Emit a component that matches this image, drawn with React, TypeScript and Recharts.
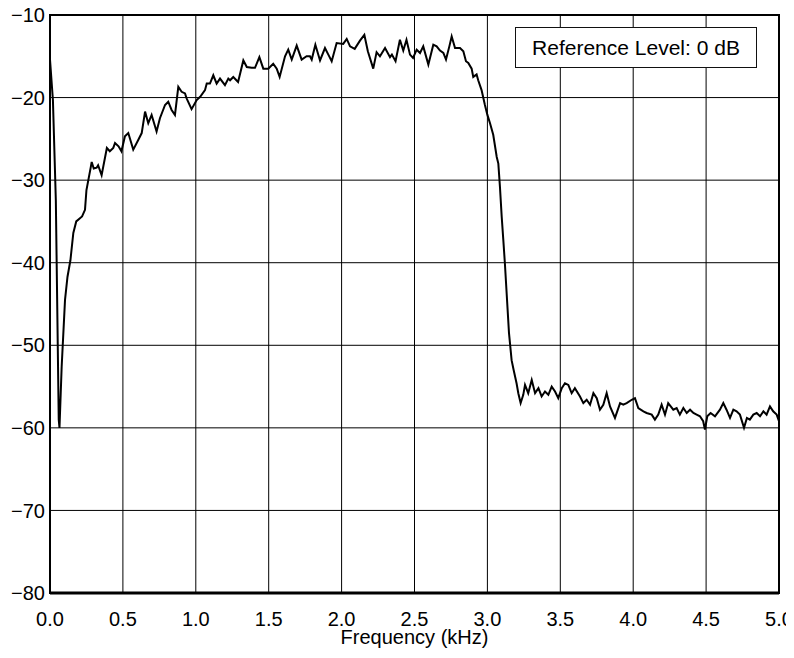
import React from 'react';
import { LineChart, Line, XAxis, YAxis, CartesianGrid, ReferenceArea } from 'recharts';

const freq = [
  0, 0.02, 0.04, 0.06, 0.065, 0.08, 0.103, 0.12, 0.14, 0.16, 0.18, 0.22, 0.24, 0.25, 0.28, 0.286, 0.3, 0.32, 0.33, 0.354,
  0.39, 0.41, 0.434, 0.446, 0.47, 0.49, 0.514, 0.537, 0.571, 0.606, 0.629, 0.652, 0.674, 0.697, 0.731, 0.754, 0.789, 0.811, 0.834, 0.857,
  0.88, 0.903, 0.926, 0.937, 0.971, 1.006, 1.03, 1.063, 1.075, 1.097, 1.12, 1.143, 1.166, 1.2, 1.223, 1.235, 1.257, 1.29, 1.326, 1.35,
  1.383, 1.406, 1.436, 1.463, 1.497, 1.531, 1.555, 1.575, 1.612, 1.634, 1.658, 1.692, 1.726, 1.76, 1.783, 1.795, 1.82, 1.852, 1.886, 1.909,
  1.932, 1.966, 2.011, 2.035, 2.058, 2.09, 2.126, 2.156, 2.18, 2.217, 2.24, 2.263, 2.298, 2.332, 2.345, 2.37, 2.4, 2.423, 2.445, 2.469,
  2.49, 2.515, 2.538, 2.56, 2.595, 2.629, 2.652, 2.675, 2.698, 2.716, 2.739, 2.755, 2.778, 2.812, 2.835, 2.853, 2.869, 2.892, 2.903, 2.926,
  2.937, 2.96, 2.983, 3.0, 3.018, 3.04, 3.064, 3.075, 3.086, 3.098, 3.109, 3.12, 3.132, 3.148, 3.166, 3.18, 3.2, 3.212, 3.228, 3.246,
  3.258, 3.28, 3.304, 3.327, 3.35, 3.372, 3.395, 3.418, 3.441, 3.464, 3.486, 3.51, 3.532, 3.555, 3.578, 3.6, 3.635, 3.658, 3.681, 3.704,
  3.727, 3.75, 3.772, 3.795, 3.818, 3.841, 3.875, 3.91, 3.932, 3.955, 3.99, 4.012, 4.035, 4.07, 4.092, 4.127, 4.149, 4.172, 4.195, 4.218,
  4.24, 4.275, 4.298, 4.32, 4.344, 4.367, 4.39, 4.413, 4.435, 4.458, 4.48, 4.492, 4.508, 4.531, 4.561, 4.595, 4.618, 4.64, 4.664, 4.687,
  4.709, 4.732, 4.76, 4.78, 4.8, 4.824, 4.847, 4.87, 4.893, 4.915, 4.938, 4.96, 4.984, 5.0,
];

const level = [
  -15.4, -20.3, -32.4, -59.0, -60.0, -52.6, -44.5, -41.7, -39.7, -36.4, -35.0, -34.4, -33.6, -31.2, -28.4, -27.8, -28.6, -28.5, -28.2, -29.4,
  -26.1, -26.5, -26.1, -25.5, -25.9, -26.5, -24.7, -24.3, -26.3, -25.1, -24.3, -21.7, -23.1, -22.1, -24.1, -22.5, -20.9, -20.5, -21.5, -22.1,
  -18.7, -19.3, -19.5, -20.1, -21.4, -20.3, -19.9, -19.1, -18.3, -18.3, -17.3, -18.3, -17.7, -18.5, -17.7, -17.9, -17.5, -18.1, -15.5, -16.3,
  -16.4, -16.4, -15.1, -16.5, -16.5, -15.9, -16.5, -17.5, -15.0, -14.2, -15.4, -13.7, -15.4, -15.0, -15.0, -15.4, -13.6, -15.5, -14.0, -14.8,
  -15.6, -13.4, -13.5, -12.9, -13.8, -14.1, -13.1, -12.4, -14.4, -16.5, -14.5, -15.0, -14.0, -15.1, -14.8, -15.6, -13.0, -14.3, -13.0, -14.8,
  -15.2, -14.2, -14.6, -13.8, -16.0, -13.6, -13.8, -14.3, -14.6, -15.4, -13.8, -12.6, -14.0, -14.0, -14.4, -15.6, -15.8, -16.5, -17.5, -17.2,
  -17.9, -19.1, -20.9, -22.1, -23.1, -24.5, -27.2, -28.0, -30.8, -34.4, -37.2, -40.1, -43.7, -48.5, -51.8, -53.0, -54.6, -55.8, -57.0, -56.0,
  -54.8, -55.8, -54.2, -55.8, -55.2, -56.2, -55.6, -56.0, -55.0, -55.6, -56.4, -55.2, -54.6, -54.8, -55.8, -55.2, -56.2, -57.0, -56.6, -57.2,
  -55.8, -56.4, -57.8, -57.2, -55.8, -57.4, -58.8, -57.0, -57.2, -57.0, -56.6, -56.4, -57.6, -58.0, -58.2, -58.4, -59.0, -58.4, -57.2, -58.4,
  -57.0, -57.8, -57.6, -58.4, -57.6, -58.2, -57.8, -58.2, -58.4, -58.6, -59.2, -60.2, -58.6, -58.2, -58.6, -57.8, -57.0, -57.8, -58.8, -57.8,
  -58.0, -58.4, -60.0, -58.8, -59.0, -58.4, -58.2, -58.6, -58.0, -58.4, -57.4, -58.0, -58.4, -59.2,
];

const xTicks = [0, 0.5, 1, 1.5, 2, 2.5, 3, 3.5, 4, 4.5, 5];
const yTicks = [-80, -70, -60, -50, -40, -30, -20, -10];
const xLabel = 'Frequency (kHz)';
const refText = 'Reference Level: 0 dB';

const data = freq.map((f, i) => ({ f, db: level[i] }));

const FONT = '"Liberation Sans", Arial, Helvetica, sans-serif';
const tickStyle = { fontSize: 20, fill: '#000', fontFamily: FONT };

export default function App() {
  return (
    <div style={{ position: 'relative', width: 794, height: 658, margin: -8, background: '#fff' }}>
      <LineChart
        width={794}
        height={658}
        data={data}
        margin={{ top: 15, right: 15, bottom: 14, left: 8 }}
      >
        <CartesianGrid stroke="#000" strokeWidth={1} />
        <XAxis
          dataKey="f"
          type="number"
          domain={[0, 5]}
          ticks={xTicks}
          tickFormatter={(v: number) => v.toFixed(1)}
          tick={tickStyle}
          tickLine={false}
          tickSize={0}
          tickMargin={19}
          height={51}
          axisLine={{ stroke: '#000', strokeWidth: 3 }}
          interval={0}
          label={{ value: xLabel, position: 'insideBottom', offset: 0, style: { fontSize: 20, fill: '#000', fontFamily: FONT } }}
        />
        <YAxis
          type="number"
          domain={[-80, -10]}
          ticks={yTicks}
          tickFormatter={(v: number) => (v < 0 ? '\u2212' + Math.abs(v) : String(v))}
          tick={tickStyle}
          tickLine={false}
          tickSize={0}
          tickMargin={5}
          width={42}
          axisLine={{ stroke: '#000', strokeWidth: 2 }}
          interval={0}
        />
        <ReferenceArea x1={0} x2={5} y1={-80} y2={-10} fill="none" stroke="#000" strokeWidth={2} ifOverflow="visible" />
        <Line
          type="linear"
          dataKey="db"
          stroke="#000"
          strokeWidth={2}
          dot={false}
          isAnimationActive={false}
        />
      </LineChart>
      <div
        style={{
          position: 'absolute',
          left: 515,
          top: 27,
          width: 242,
          height: 41,
          boxSizing: 'border-box',
          border: '1.5px solid #111',
          background: '#fff',
          fontFamily: FONT,
          fontSize: 21,
          color: '#000',
          display: 'flex',
          alignItems: 'center',
          justifyContent: 'center',
          whiteSpace: 'nowrap',
        }}
      >
        {refText}
      </div>
    </div>
  );
}
